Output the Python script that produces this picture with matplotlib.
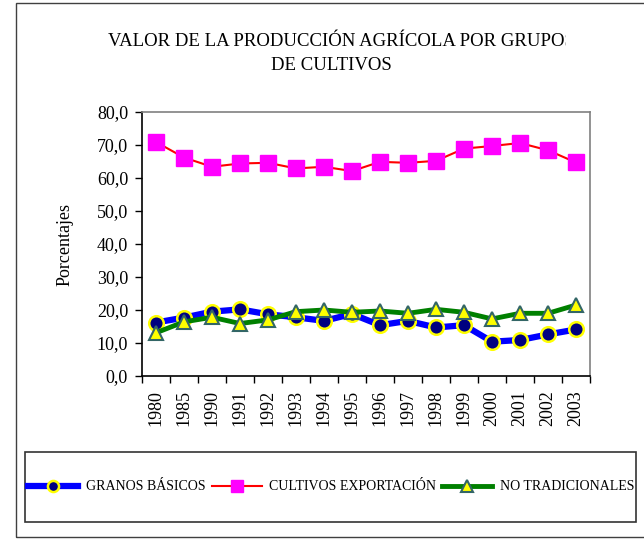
import matplotlib
matplotlib.use("Agg")
import matplotlib.pyplot as plt
from matplotlib.patches import Rectangle
from matplotlib.lines import Line2D
from matplotlib.transforms import Bbox, TransformedBbox

plt.rcParams["font.family"] = ["Liberation Serif", "DejaVu Serif"]

# Data
years = ["1980", "1985", "1990", "1991", "1992", "1993", "1994", "1995",
         "1996", "1997", "1998", "1999", "2000", "2001", "2002", "2003"]
granos = [16.2, 17.7, 19.5, 20.2, 18.7, 17.8, 16.7, 18.8,
          15.4, 16.7, 14.7, 15.4, 10.4, 10.9, 12.6, 14.1]
exportacion = [70.9, 66.2, 63.4, 64.4, 64.6, 62.9, 63.4, 62.1,
               64.9, 64.6, 65.2, 68.9, 69.7, 70.6, 68.4, 64.7]
no_tradicionales = [13.1, 16.4, 17.8, 15.9, 17.0, 19.5, 20.0, 19.3,
                    19.7, 19.0, 20.2, 19.3, 17.3, 19.0, 19.0, 21.5]

W, H = 644, 539
fig = plt.figure(figsize=(W / 100, H / 100), dpi=100)
ax = fig.add_axes([142 / W, 1 - 376 / H, (590 - 142) / W, (376 - 112) / H])

x = list(range(len(years)))
ax.plot(x, granos, color="#0000FF", lw=4.5, marker="o", ms=10.5,
        mfc="#000080", mec="#FFFF00", mew=1.8, label="GRANOS BÁSICOS")
ax.plot(x, exportacion, color="#FF0000", lw=1.5, marker="s", ms=11,
        mfc="#FF00FF", mec="#FF00FF", label="CULTIVOS EXPORTACIÓN")
ax.plot(x, no_tradicionales, color="#008000", lw=3.5, marker="^", ms=9.5,
        mfc="#FFFF00", mec="#336666", mew=1.5, label="NO TRADICIONALES")

ax.set_xlim(-0.5, len(years) - 0.5)
ax.set_ylim(0, 80)
ax.set_yticks(range(0, 81, 10))
ax.set_yticklabels([f"{v},0" for v in range(0, 81, 10)], fontsize=13)
ax.set_xticks([i - 0.5 for i in range(len(years) + 1)])
ax.set_xticklabels([])
ax.set_xticks(x, minor=True)
ax.set_xticklabels(years, minor=True, rotation=90, fontsize=13)
ax.tick_params(axis="x", which="minor", length=0, pad=10)
ax.tick_params(axis="x", which="major", direction="out", length=5, width=1, color="black")
ax.tick_params(axis="y", direction="out", length=5, width=1, pad=5)
ax.set_ylabel("Porcentajes", fontsize=13, labelpad=17)

ax.spines["left"].set_color("black")
ax.spines["bottom"].set_color("black")
ax.spines["top"].set_color("#808080")
ax.spines["right"].set_color("#808080")
for s in ax.spines.values():
    s.set_linewidth(1.2)

# Title (the first line is cut off at the chart edge in the original)
t = fig.text(108 / W, 1 - 41 / H, "VALOR DE LA PRODUCCIÓN AGRÍCOLA POR GRUPOS",
             fontsize=13.5, ha="left", va="center")
t.set_clip_box(TransformedBbox(Bbox([[0, 0], [566 / W, 1]]), fig.transFigure))
t.set_clip_on(True)
fig.text(331 / W, 1 - 65 / H, "DE CULTIVOS", fontsize=13.5, ha="center", va="center")

# Outer frame and legend frame
fig.patches.append(Rectangle((16 / W, 1 - 537 / H), (W + 5 - 16) / W, (537 - 3) / H,
                             transform=fig.transFigure, fill=False,
                             edgecolor="#404040", lw=1))
fig.patches.append(Rectangle((25 / W, 1 - 522 / H), (636 - 25) / W, (522 - 452) / H,
                             transform=fig.transFigure, fill=False,
                             edgecolor="#333333", lw=1.2))

handles = [
    Line2D([], [], color="#0000FF", lw=4.5, marker="o", ms=8,
           mfc="#000080", mec="#FFFF00", mew=1.8),
    Line2D([], [], color="#FF0000", lw=1.5, marker="s", ms=9,
           mfc="#FF00FF", mec="#FF00FF"),
    Line2D([], [], color="#008000", lw=3.5, marker="^", ms=8,
           mfc="#FFFF00", mec="#336666", mew=1.5),
]
labels = ["GRANOS BÁSICOS", "CULTIVOS EXPORTACIÓN", "NO TRADICIONALES"]
fig.legend(handles, labels, loc="center left", bbox_to_anchor=(28 / W, 1 - 487 / H),
           ncol=3, frameon=False, fontsize=10, handlelength=3.6,
           handletextpad=0.55, columnspacing=0.45, borderpad=0, borderaxespad=0)

fig.savefig("out.png", dpi=100)
